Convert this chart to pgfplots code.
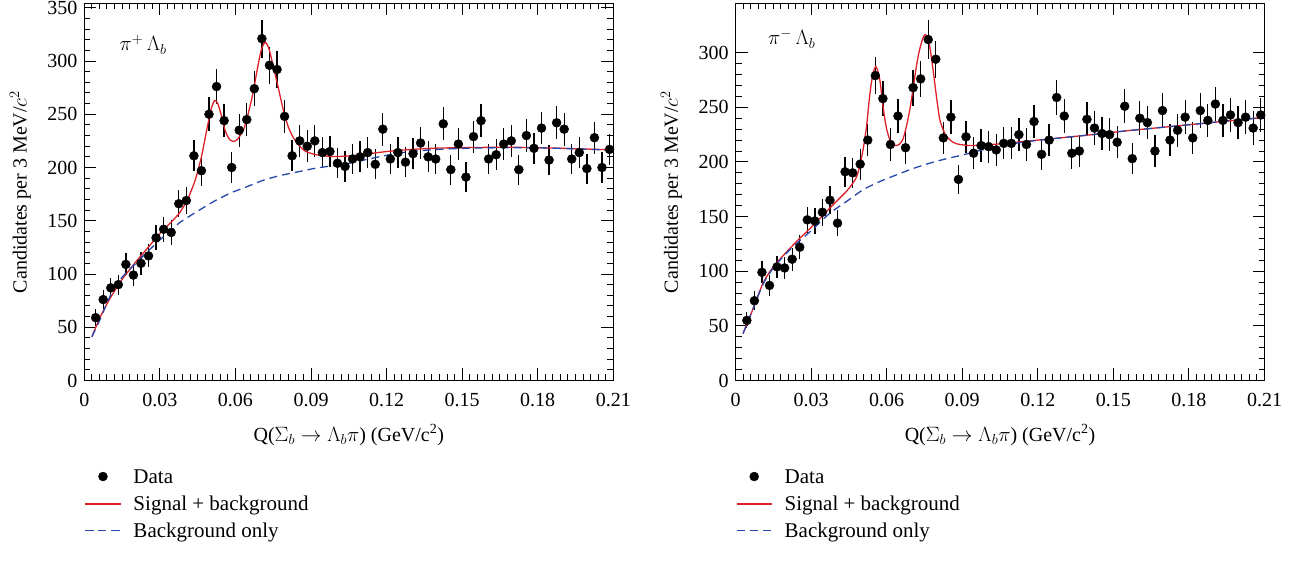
\documentclass[border=0pt]{standalone}
\usepackage{fontspec}
\setmainfont{Liberation Serif}
\usepackage{pgfplots}
\usepackage{pgfplotstable}
\pgfplotsset{compat=1.18}

\definecolor{fitred}{RGB}{222,32,42}
\definecolor{bkgblue}{RGB}{38,70,170}

% pi+ Lambda_b candidates (left panel)
\pgfplotstableread{
x y e
0.0045 59 7.7
0.0075 76 8.7
0.0105 87 9.3
0.0135 90 9.5
0.0165 109 10.4
0.0195 99 9.9
0.0225 110 10.5
0.0255 117 10.8
0.0285 134 11.6
0.0315 142 11.9
0.0345 139 11.8
0.0375 166 12.9
0.0405 169 13.0
0.0435 211 14.5
0.0465 197 14.0
0.0495 250 15.8
0.0525 276 16.6
0.0555 244 15.6
0.0585 200 14.1
0.0615 235 15.3
0.0645 245 15.7
0.0675 274 16.6
0.0705 321 17.9
0.0735 296 17.2
0.0765 292 17.1
0.0795 248 15.7
0.0825 211 14.5
0.0855 225 15.0
0.0885 220 14.8
0.0915 225 15.0
0.0945 214 14.6
0.0975 215 14.7
0.1005 204 14.3
0.1035 201 14.2
0.1065 208 14.4
0.1095 210 14.5
0.1125 214 14.6
0.1155 203 14.2
0.1185 236 15.4
0.1215 208 14.4
0.1245 214 14.6
0.1275 205 14.3
0.1305 213 14.6
0.1335 223 14.9
0.1365 210 14.5
0.1395 208 14.4
0.1425 241 15.5
0.1455 198 14.1
0.1485 222 14.9
0.1515 191 13.8
0.1545 229 15.1
0.1575 244 15.6
0.1605 208 14.4
0.1635 212 14.6
0.1665 222 14.9
0.1695 225 15.0
0.1725 198 14.1
0.1755 230 15.2
0.1785 218 14.8
0.1815 237 15.4
0.1845 207 14.4
0.1875 242 15.6
0.1905 236 15.4
0.1935 208 14.4
0.1965 214 14.6
0.1995 199 14.1
0.2025 228 15.1
0.2055 200 14.1
0.2085 217 14.7
}\dataplus

% pi- Lambda_b candidates (right panel)
\pgfplotstableread{
x y e
0.0045 55 7.4
0.0075 73 8.5
0.0105 99 9.9
0.0135 87 9.3
0.0165 104 10.2
0.0195 103 10.1
0.0225 111 10.5
0.0255 122 11.0
0.0285 147 12.1
0.0315 146 12.1
0.0345 154 12.4
0.0375 165 12.8
0.0405 144 12.0
0.0435 191 13.8
0.0465 190 13.8
0.0495 198 14.1
0.0525 220 14.8
0.0555 279 16.7
0.0585 258 16.1
0.0615 216 14.7
0.0645 242 15.6
0.0675 213 14.6
0.0705 268 16.4
0.0735 276 16.6
0.0765 312 17.7
0.0795 294 17.1
0.0825 222 14.9
0.0855 241 15.5
0.0885 184 13.6
0.0915 223 14.9
0.0945 208 14.4
0.0975 215 14.7
0.1005 214 14.6
0.1035 211 14.5
0.1065 217 14.7
0.1095 217 14.7
0.1125 225 15.0
0.1155 216 14.7
0.1185 237 15.4
0.1215 207 14.4
0.1245 220 14.8
0.1275 259 16.1
0.1305 242 15.6
0.1335 208 14.4
0.1365 210 14.5
0.1395 239 15.5
0.1425 231 15.2
0.1455 226 15.0
0.1485 225 15.0
0.1515 218 14.8
0.1545 251 15.8
0.1575 203 14.2
0.1605 240 15.5
0.1635 236 15.4
0.1665 210 14.5
0.1695 247 15.7
0.1725 220 14.8
0.1755 229 15.1
0.1785 241 15.5
0.1815 222 14.9
0.1845 247 15.7
0.1875 238 15.4
0.1905 253 15.9
0.1935 238 15.4
0.1965 243 15.6
0.1995 236 15.4
0.2025 241 15.5
0.2055 231 15.2
0.2085 243 15.6
}\dataminus

\pgfplotsset{
  qpanel/.style={
    scale only axis, width=529pt, height=377pt,
    xmin=0, xmax=0.21, ymin=0,
    xtick={0,0.03,0.06,0.09,0.12,0.15,0.18,0.21},
    xticklabels={0,0.03,0.06,0.09,0.12,0.15,0.18,0.21},
    minor x tick num=9, minor y tick num=4,
    tick align=inside,
    major tick length=12pt, minor tick length=6pt,
    axis line style={line width=1.2pt},
    every tick/.style={black, line width=1pt},
    /pgf/number format/assume math mode=true,
    xticklabel style={yshift=-5.5pt},
    xlabel={Q($\Sigma_b\rightarrow\Lambda_b\pi$) (GeV/c\textsuperscript{2})},
    ylabel={Candidates per 3 MeV/$c^2$},
    xlabel style={at={(axis description cs:0.5,-0.1446)}, anchor=center},
    ylabel style={at={(axis description cs:-0.121,0.5)}, anchor=center},
    legend style={at={(axis description cs:0,-0.225)}, anchor=north west,
      draw=none, fill=none, inner sep=0pt, row sep=5pt, column sep=10pt,
      font=\fontsize{21}{25}\selectfont,
      nodes={inner sep=2pt, text height=16pt, text depth=2pt}},
    legend cell align=left,
    legend image code/.code={\draw[mark repeat=2,mark phase=2,#1]
      plot coordinates {(0pt,0pt) (17.5pt,0pt) (35pt,0pt)};},
  },
  datapts/.style={only marks, mark=*, mark size=4.5pt, black,
    error bars/.cd, y dir=both, y explicit, error mark=none,
    error bar style={line width=1.3pt, black}},
  sigbkg/.style={color=fitred, line width=1.3pt, smooth, tension=0.4, no marks},
  bkgonly/.style={color=bkgblue, line width=1.3pt, dash pattern=on 8pt off 5pt,
    smooth, tension=0.4, no marks},
}

\begin{document}
\fontsize{20}{24}\selectfont
\begin{tikzpicture}
\path[use as bounding box] (0,0) rectangle (1295pt,586pt);

\begin{axis}[qpanel, at={(84.3pt,205.5pt)}, anchor=south west,
  ymax=354, ytick={0,50,100,150,200,250,300,350}]
\addplot[datapts] table[x=x, y=y, y error=e] {\dataplus};
\addlegendentry{Data}
\addplot[sigbkg, forget plot] coordinates {
(0.003,41) (0.006,58) (0.009,72) (0.012,84) (0.015,95) (0.018,104)
(0.021,113) (0.025,124) (0.030,138) (0.035,150) (0.038,158) (0.041,170)
(0.044,188) (0.0465,210) (0.049,240) (0.0505,256) (0.0518,263) (0.053,260)
(0.0545,248) (0.056,234) (0.0578,226) (0.0595,224.5) (0.061,227) (0.0633,236)
(0.065,250) (0.0668,268) (0.0685,290) (0.070,308) (0.0712,316) (0.0722,317)
(0.0735,310) (0.075,295) (0.077,275) (0.079,254) (0.081,238) (0.083,228)
(0.0855,220) (0.088,215) (0.092,212) (0.097,210.5) (0.103,210.5) (0.110,212)
(0.120,215) (0.130,217) (0.140,218.2) (0.155,218.8) (0.170,219) (0.185,218.3)
(0.200,217.3) (0.210,216.5)};
\addlegendimage{color=fitred, line width=2pt}
\addlegendentry{Signal + background}
\addplot[bkgonly] coordinates {
(0.003,41) (0.006,56) (0.010,78) (0.0116,86) (0.015,97) (0.020,109)
(0.0249,120.5) (0.030,132) (0.035,142) (0.0381,148.7) (0.045,159) (0.0513,168)
(0.058,176) (0.0646,182) (0.071,188) (0.0778,192.5) (0.085,196) (0.091,199)
(0.098,201.5) (0.1042,203.5) (0.110,206.5) (0.120,211.5) (0.128,214.5)
(0.140,217) (0.1544,218.2) (0.170,218.6) (0.181,218.5) (0.195,217.5) (0.210,216.3)};
\addlegendentry{Background only}
\node[anchor=base west] at (axis description cs:0.054,0.874) {$\pi^{+}\,\Lambda_b$};
\node at (axis description cs:0.434,-0.507) {(a)};
\end{axis}

\begin{axis}[qpanel, at={(735.5pt,205.5pt)}, anchor=south west,
  ymax=345, ytick={0,50,100,150,200,250,300}]
\addplot[datapts] table[x=x, y=y, y error=e] {\dataminus};
\addlegendentry{Data}
\addplot[sigbkg, forget plot] coordinates {
(0.003,43) (0.006,60) (0.0109,89) (0.015,104) (0.020,117) (0.025,129)
(0.030,140) (0.0374,157.7) (0.044,173) (0.0466,180.6) (0.048,186) (0.0493,196)
(0.0507,212) (0.052,232) (0.053,255) (0.0539,272) (0.0548,283) (0.0557,287.4)
(0.0565,283) (0.0573,275) (0.0581,260) (0.0589,245) (0.060,230) (0.0613,220)
(0.0625,216) (0.0639,215) (0.0652,216.5) (0.0665,221) (0.0678,232) (0.0692,248)
(0.0705,267) (0.0718,287.4) (0.0728,300) (0.0738,309) (0.0747,315) (0.0755,316.4)
(0.0763,313) (0.0771,305.7) (0.0781,290) (0.0791,272) (0.0801,254) (0.0811,238.6)
(0.0825,229) (0.0838,223.3) (0.0858,219) (0.0878,216.6) (0.0931,215) (0.1037,216.3)
(0.120,220) (0.140,224.6) (0.154,228.2) (0.170,231.8) (0.190,236.3) (0.2096,240.7)};
\addlegendimage{color=fitred, line width=2pt}
\addlegendentry{Signal + background}
\addplot[bkgonly] coordinates {
(0.003,43) (0.006,60) (0.0109,88) (0.015,103) (0.020,116) (0.025,127)
(0.030,137) (0.0374,153) (0.044,163.7) (0.0506,174.5) (0.0572,182) (0.0639,188.2)
(0.0705,194) (0.0771,198.9) (0.0838,203) (0.0904,206.5) (0.097,210.5) (0.1037,214.1)
(0.110,216.7) (0.120,219.8) (0.140,224.6) (0.154,228.2) (0.170,231.8) (0.190,236.3)
(0.2096,240.7)};
\addlegendentry{Background only}
\node[anchor=base west] at (axis description cs:0.0487,0.890) {$\pi^{-}\,\Lambda_b$};
\node at (axis description cs:0.434,-0.507) {(b)};
\end{axis}
\end{tikzpicture}
\end{document}
